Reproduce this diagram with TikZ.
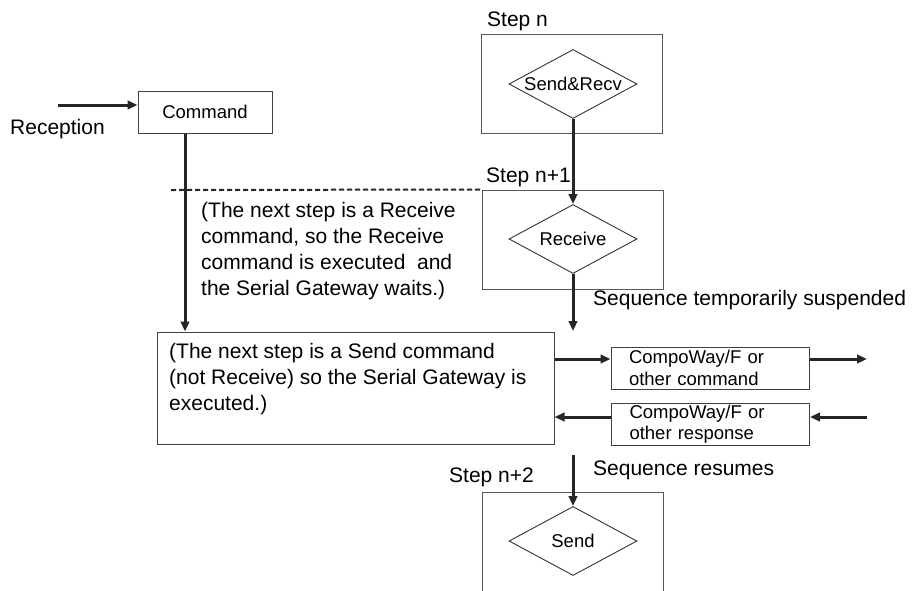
\documentclass[tikz,border=0pt]{standalone}
\usepackage{fontspec}
\setmainfont{Liberation Sans}
\usepackage{tikz}
\usetikzlibrary{arrows.meta,positioning,calc,shapes.geometric}

\begin{document}
\begin{tikzpicture}[
    x=1pt, y=-1pt,
    frame/.style={rectangle, draw=black!65, line width=1pt, inner sep=0pt},
    stepbox/.style={frame, minimum width=181pt, minimum height=99pt},
    decision/.style={diamond, draw=black!80, line width=0.9pt, aspect=1.85, inner sep=0pt,
        minimum width=128pt, minimum height=69pt, font=\fontsize{18.5}{21}\selectfont},
    msgbox/.style={frame, draw=black!75, minimum width=198pt, minimum height=42pt, text width=162pt,
        inner xsep=18pt, align=left, font=\fontsize{18.5}{21.5}\selectfont},
    lbl/.style={inner sep=0pt, anchor=base west, font=\fontsize{21}{26}\selectfont},
    note/.style={inner sep=0pt, anchor=north west, align=left, font=\fontsize{21}{26}\selectfont},
    arr/.style={-{Triangle[length=10pt,width=8.5pt]}, line width=3pt, draw=black!85}
]
\clip (0,0) rectangle (912,590);

% Column of steps
\node[stepbox] (stepA) at (571.5,83.5) {};
\node[stepbox] (stepB) at (572.5,239.5) {};
\node[stepbox, minimum height=120pt] (stepC) at (572.5,552) {};
\node[decision] (sendrecv) at (573,84) {Send\&Recv};
\node[decision] (receive) at (573,239) {Receive};
\node[decision] (send) at (573,541) {Send};
\node[lbl] at (487,26) {Step n};
\node[lbl] at (486,182) {Step n+1};
\node[lbl] at (449,482) {Step n+2};

% Command received
\node[frame, draw=black!75, minimum width=134pt, minimum height=42pt, font=\fontsize{18.5}{21}\selectfont] (cmd) at (205,112) {Command};
\node[lbl] at (10,134) {Reception};
\coordinate (recv) at (58,105);

% Waiting note
\coordinate (dashstart) at (171,190);
\node[note] at (201,202.5) {(The next step is a Receive\\command, so the Receive\\command is executed\ \ and\\the Serial Gateway waits.)};

% Execution box
\node[frame, draw=black!75, minimum width=397pt, minimum height=112pt] (exec) at (355.5,388) {};
\node[note] at (169,343.5) {(The next step is a Send command\\(not Receive) so the Serial Gateway is\\executed.)};

% Messages
\node[msgbox] (cmdout) at (710,368) {CompoWay/F or\\other command};
\node[msgbox] (respin) at (710.5,424) {CompoWay/F or\\other response};
\coordinate (outcmd) at (867,359);
\coordinate (inresp) at (867,417);
\coordinate (suspend) at (573,331);
\coordinate (resume) at (573,455);
\node[lbl] at (593,305) {Sequence temporarily suspended};
\node[lbl] at (593,475) {Sequence resumes};

% -- Arrows --
\draw[arr] (recv) -- (recv -| cmd.west);
\draw[arr] ([xshift=-20pt]cmd.south) -- ([xshift=-20pt]cmd.south |- exec.north);
\draw[dashed, dash pattern=on 5pt off 3pt, line width=2pt, black!85] (dashstart) -- (stepB.north west);
\draw[arr] (sendrecv.south) -- (receive.north);
\draw[arr] (receive.south) -- (suspend);
\draw[arr] (outcmd -| exec.east) -- (outcmd -| cmdout.west);
\draw[arr] (cmdout.east |- outcmd) -- (outcmd);
\draw[arr] (inresp) -- (inresp -| respin.east);
\draw[arr] (inresp -| respin.west) -- (inresp -| exec.east);
\draw[arr] (resume) -- (send.north);

\end{tikzpicture}
\end{document}
